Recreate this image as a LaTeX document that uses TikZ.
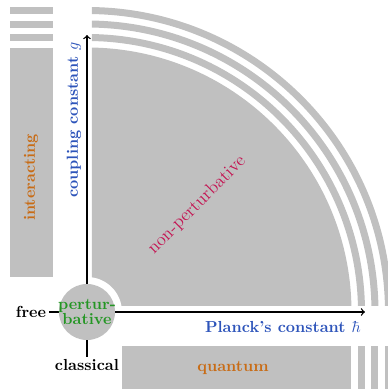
\documentclass[tikz,border=0pt]{standalone}
\definecolor{regiongray}{RGB}{192,192,192}
\definecolor{axisblue}{RGB}{45,84,186}
\definecolor{labelorange}{RGB}{200,108,22}
\definecolor{npred}{RGB}{196,20,82}
\definecolor{pertgreen}{RGB}{36,150,36}
\tikzset{
  region/.style={fill=regiongray},
  axisline/.style={thick,black,->},
  axislabel/.style={font=\bfseries,text=axisblue},
  arealabel/.style={font=\bfseries,text=labelorange},
  endlabel/.style={font=\bfseries,inner sep=1.5pt},
}
\begin{document}
\begin{tikzpicture}[x=0.625pt,y=0.625pt]
\useasboundingbox (-87,-77) rectangle (301,312);
\begin{scope}
\clip (-87,-77) rectangle (301,312);
% main quarter disc and its rings
\begin{scope}
\clip (5,6) rectangle (320,320);
\fill[region] (0,0) -- (264.5,0) arc[start angle=0,end angle=90,radius=264.5] -- cycle;
\foreach \r in {271,284.5,298}{
  \fill[region] (\r,0) arc[start angle=0,end angle=90,radius=\r]
     -- (0,\r+7) arc[start angle=90,end angle=0,radius=\r+7] -- cycle;
}
\end{scope}
\fill[white] (0,0) circle (35);
% classical bar (left) and its bands
\fill[region] (-77,35) rectangle (-34,264.5);
\foreach \r in {271,284.5,298}{
  \fill[region] (-77,\r) rectangle (-34,\r+7);
}
% free bar (bottom) and its bands
\fill[region] (35,-34) rectangle (264.5,-80);
\foreach \r in {271,284.5,298}{
  \fill[region] (\r,-34) rectangle (\r+7,-80);
}
\end{scope}
% axes
\node[endlabel] (free) at (-56,0) {free};
\node[endlabel] (classical) at (0,-53) {classical};
\coordinate (xend) at (278,0);
\coordinate (yend) at (0,277);
\draw[axisline] (free) -- (xend);
\draw[axisline] (classical) -- (yend);
\node[circle,fill=regiongray,minimum size=35pt,inner sep=-3pt,
      align=center,font=\bfseries,text=pertgreen] (pert) at (0,0) {pertur-\\[-3.2pt]bative};
% labels
\node[axislabel,rotate=90] (glabel) at (-13,192) {coupling constant $g$};
\node[axislabel] (hlabel) at (196,-15) {Planck's constant $\hbar$};
\node[arealabel,rotate=90] (interacting) at (-56,134.5) {interacting};
\node[arealabel] (quantum) at (146,-56) {quantum};
\node[text=npred,rotate=45,font=\fontsize{11.3}{13.5}\selectfont] (nonpert) at (110,107) {non-perturbative};
\end{tikzpicture}
\end{document}
